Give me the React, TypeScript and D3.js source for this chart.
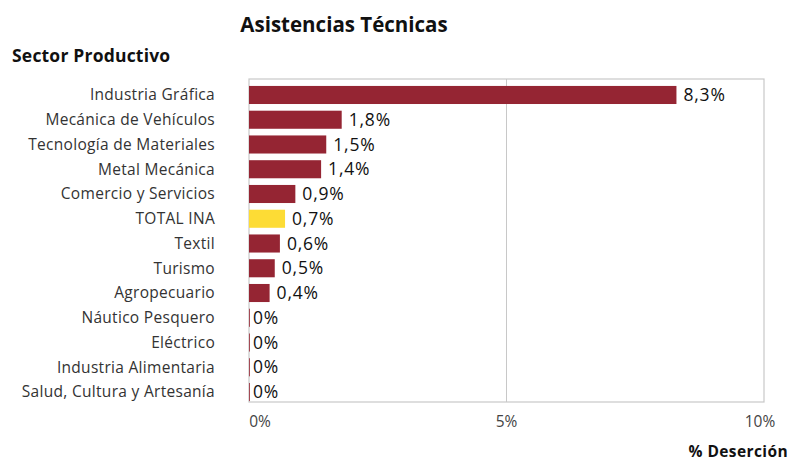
import React from "react";
import * as d3 from "d3";

const categories = [
  "Industria Gráfica",
  "Mecánica de Vehículos",
  "Tecnología de Materiales",
  "Metal Mecánica",
  "Comercio y Servicios",
  "TOTAL INA",
  "Textil",
  "Turismo",
  "Agropecuario",
  "Náutico Pesquero",
  "Eléctrico",
  "Industria Alimentaria",
  "Salud, Cultura y Artesanía",
];
const values = [8.3, 1.8, 1.5, 1.4, 0.9, 0.7, 0.6, 0.5, 0.4, 0, 0, 0, 0];
const valueLabels = ["8,3%", "1,8%", "1,5%", "1,4%", "0,9%", "0,7%", "0,6%", "0,5%", "0,4%", "0%", "0%", "0%", "0%"];
const highlight = "TOTAL INA";
const xTicks = [0, 5, 10];
const xTickLabels = ["0%", "5%", "10%"];

const W = 791;
const H = 461;
const font = "'Open Sans', Lato, sans-serif";

export default function App() {
  const left = 249;
  const right = 764;
  const top = 79;
  const bottom = 402;
  const x = d3.scaleLinear().domain([0, 10]).range([left, right]);
  const y = d3.scaleBand<string>().domain(categories).range([82.6, 404.4]).paddingInner(0.27).paddingOuter(0.135);
  const bh = y.bandwidth();
  const tickOffsets = [11, 0, -4];

  return (
    <svg width={W} height={H} style={{ position: "absolute", left: 0, top: 0, background: "#fff" }} fontFamily={font}>
      <text x={344} y={32} textAnchor="middle" fontSize={20.5} fontWeight="bold" fill="#111">
        Asistencias Técnicas
      </text>
      <text x={12} y={62} fontSize={17.5} fontWeight="bold" fill="#111" letterSpacing={0.2}>
        Sector Productivo
      </text>
      <rect x={left} y={top} width={right - left} height={bottom - top} fill="none" stroke="#c8c8c8" strokeWidth={1.2} />
      {xTicks.slice(1, -1).map((t) => (
        <line key={t} x1={x(t)} x2={x(t)} y1={top} y2={bottom} stroke="#c8c8c8" strokeWidth={1} />
      ))}
      {categories.map((c, i) => {
        const yc = (y(c) as number) + bh / 2;
        const w = x(values[i]) - x(0);
        return (
          <g key={c}>
            <text x={215} y={yc} dy="0.35em" textAnchor="end" fontSize={15.5} fill="#333" letterSpacing={0.3}>
              {c}
            </text>
            <rect
              x={x(0)}
              y={y(c) as number}
              width={Math.max(w, 0.8)}
              height={bh}
              fill={c === highlight ? "#FDDC35" : "#952533"}
            />
            <text x={x(values[i]) + (values[i] > 0 ? 7 : 4)} y={yc} dy="0.35em" fontSize={17.5} fill="#111" letterSpacing={0.8}>
              {valueLabels[i]}
            </text>
          </g>
        );
      })}
      {xTicks.map((t, i) => (
        <text key={t} x={x(t) + tickOffsets[i]} y={427} textAnchor="middle" fontSize={15.5} fill="#444">
          {xTickLabels[i]}
        </text>
      ))}
      <text x={788} y={456.5} textAnchor="end" fontSize={15.5} fontWeight="bold" fill="#111" letterSpacing={0.4}>
        % Deserción
      </text>
    </svg>
  );
}
